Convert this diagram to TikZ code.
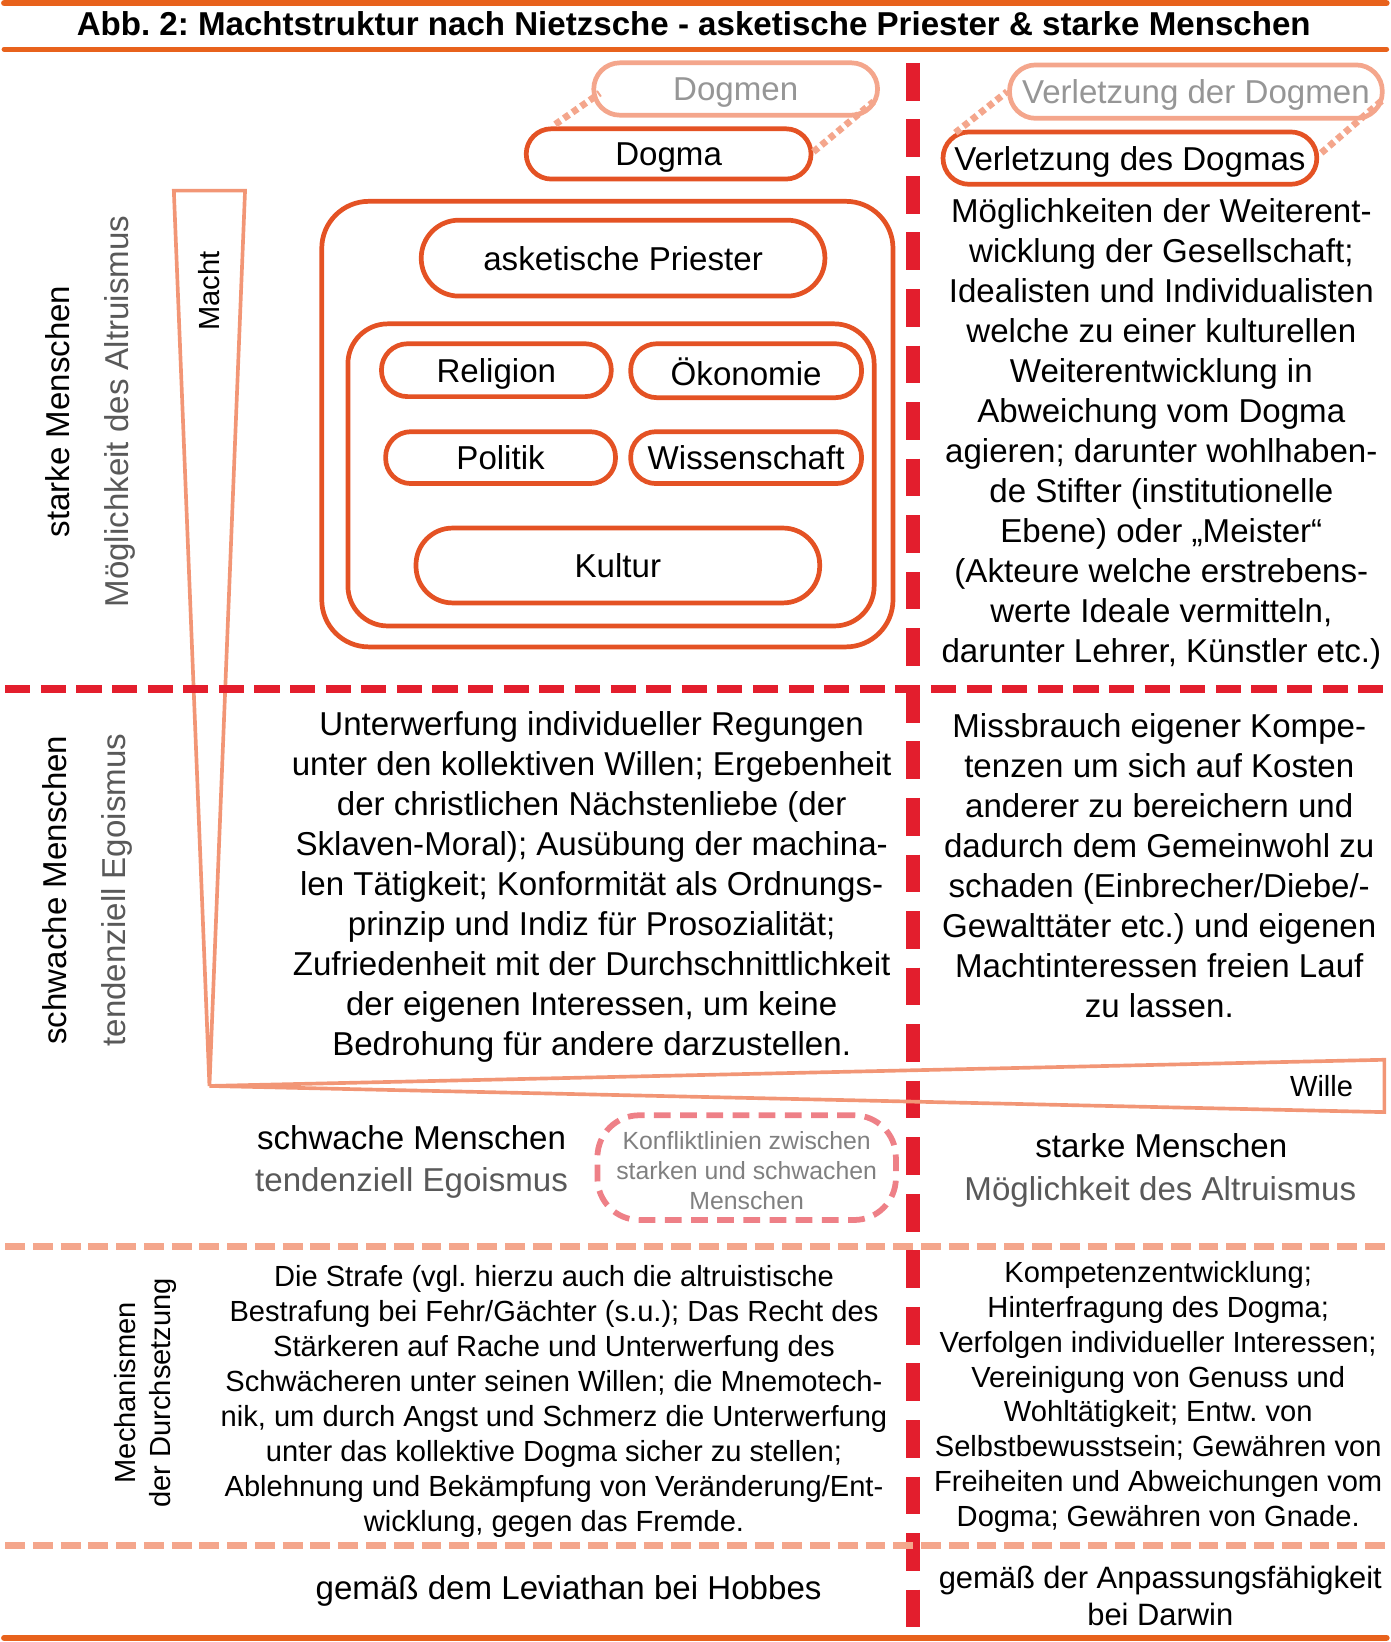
\documentclass[tikz,border=0pt]{standalone}
\usepackage{fontspec}
\setmainfont{Liberation Sans}
\frenchspacing
\definecolor{titleorange}{RGB}{232,98,28}
\definecolor{boxorange}{RGB}{228,82,36}
\definecolor{paleorange}{RGB}{244,166,140}
\definecolor{wedgeorange}{RGB}{242,150,118}
\definecolor{splitred}{RGB}{227,30,45}
\definecolor{conflictred}{RGB}{238,128,135}
\definecolor{softgray}{RGB}{89,89,89}
\definecolor{lightgray}{RGB}{150,150,150}
\newcommand{\bigtext}{\fontsize{31.6}{38.2}\selectfont}
\newcommand{\smalltext}{\fontsize{27.8}{33.4}\selectfont}
\newcommand{\tinytext}{\fontsize{23.7}{28.5}\selectfont}

\begin{document}
\begin{tikzpicture}[
		x=1pt, y=-1pt,
		pill/.style={draw=boxorange, line width=4.5pt, fill=white, rounded corners=#1, inner sep=0pt, font=\bigtext, text height=22.7pt, text depth=0pt},
		frame/.style={draw=boxorange, line width=4.5pt, rounded corners=#1, inner sep=0pt},
		link/.style={draw=paleorange, line width=6.5pt, dash pattern=on 6pt off 4pt},
		wedge/.style={draw=wedgeorange, line width=3.5pt, line join=miter},
		txt/.style={align=center, font=\bigtext, inner sep=0pt},
		smalltxt/.style={align=center, font=\smalltext, inner sep=0pt},
	]
	\useasboundingbox (0,0) rectangle (1328,1568);

	% title bar
	\draw[titleorange, line width=6pt, line cap=round] (4,3) -- (1324,3);
	\draw[titleorange, line width=5pt, line cap=round] (4,47) -- (1324,47);
	\draw[titleorange, line width=6pt, line cap=round] (4,1564) -- (1324,1564);
	\node[txt, font=\bfseries\bigtext] (title) at (662.5,23) {Abb. 2: Machtstruktur nach Nietzsche - asketische Priester \& starke Menschen};

	% separators
	\draw[splitred, line width=13pt, dash pattern=on 36pt off 18pt] (872,60) -- (872,1568);
	\draw[paleorange, line width=7pt, dash pattern=on 19pt off 7.5pt] (5,1190) -- (1325,1190);
	\draw[paleorange, line width=7pt, dash pattern=on 19pt off 7.5pt] (5,1476) -- (1325,1476);

	% Macht and Wille
	\coordinate (apex) at (200,1037);
	\draw[wedge] (166,182) -- (234,182) -- (apex) -- cycle;
	\draw[wedge] (apex) -- (1322,1012) -- (1322,1062) -- cycle;
	\node[smalltxt, rotate=90] (macht) at (200,278) {Macht};
	\node[smalltxt] (wille) at (1262,1037) {Wille};

	\draw[splitred, line width=7pt, dash pattern=on 24pt off 10pt] (5,658) -- (1325,658);

	% left labels
	\node[txt, rotate=90] (strong) at (55,393) {starke Menschen};
	\node[txt, rotate=90, text=softgray] (altru) at (115,393) {Möglichkeit des Altruismus};
	\node[txt, rotate=90] (weak) at (52,850) {schwache Menschen};
	\node[txt, rotate=90, text=softgray] (ego) at (112,850) {tendenziell Egoismus};
	\node[smalltxt, rotate=90] (mech) at (139,1330) {Mechanismen\\der Durchsetzung};

	% dogma boxes
	\node[pill=25pt, draw=paleorange, minimum width=271pt, minimum height=50pt, text=lightgray] (dogmen) at (702.5,85) {Dogmen};
	\node[pill=24pt, minimum width=272pt, minimum height=48pt] (dogma) at (638.5,147) {Dogma};
	\node[pill=25pt, draw=paleorange, minimum width=356pt, minimum height=51pt, text=lightgray] (dogmenhurt) at (1142,87.5) {Verletzung der Dogmen};
	\node[pill=25pt, minimum width=357pt, minimum height=50pt] (dogmahurt) at (1079,151) {Verletzung des Dogmas};
	\draw[link] ([xshift=30pt,yshift=2pt]dogma.north west) -- ([xshift=8pt,yshift=-4pt]dogmen.west);
	\draw[link] ([yshift=2pt]dogma.east) -- ([xshift=-6pt,yshift=-12pt]dogmen.east);
	\draw[link] ([xshift=14pt,yshift=-3pt]dogmahurt.north west) -- (dogmenhurt.west);
	\draw[link] ([xshift=2pt,yshift=5pt]dogmahurt.east) -- ([xshift=-2pt,yshift=-8pt]dogmenhurt.east);

	% institutions
	\node[frame=45pt, minimum width=545.5pt, minimum height=425.5pt] (church) at (580,405) {};
	\node[pill=36pt, minimum width=385.5pt, minimum height=72.5pt] (priests) at (595,246.5) {asketische Priester};
	\node[frame=38pt, minimum width=502.5pt, minimum height=288.5pt] (society) at (583.5,453.5) {};
	\node[pill=25pt, minimum width=219.5pt, minimum height=50.5pt] (religion) at (474,353.5) {Religion};
	\node[pill=25pt, minimum width=220.5pt, minimum height=51.5pt, text height=28pt] (economy) at (712.5,354) {Ökonomie};
	\node[pill=24pt, minimum width=219.5pt, minimum height=49.5pt] (politics) at (478,437) {Politik};
	\node[pill=24pt, minimum width=220.5pt, minimum height=49.5pt] (science) at (712.5,437) {Wissenschaft};
	\node[pill=35pt, minimum width=385.5pt, minimum height=71.5pt] (culture) at (590,540) {Kultur};

	% texts
	\node[txt] (chances) at (1109,414) {Möglichkeiten der Weiterent-\\wicklung der Gesellschaft;\\Idealisten und Individualisten\\welche zu einer kulturellen\\Weiterentwicklung in\\Abweichung vom Dogma\\agieren; darunter wohlhaben-\\de Stifter (institutionelle\\Ebene) oder „Meister“\\(Akteure welche erstrebens-\\werte Ideale vermitteln,\\darunter Lehrer, Künstler etc.)};
	\node[txt] (submission) at (565,847) {Unterwerfung individueller Regungen\\unter den kollektiven Willen; Ergebenheit\\der christlichen Nächstenliebe (der\\Sklaven-Moral); Ausübung der machina-\\len Tätigkeit; Konformität als Ordnungs-\\prinzip und Indiz für Prosozialität;\\Zufriedenheit mit der Durchschnittlichkeit\\der eigenen Interessen, um keine\\Bedrohung für andere darzustellen.};
	\node[txt] (abuse) at (1107,826.5) {Missbrauch eigener Kompe-\\tenzen um sich auf Kosten\\anderer zu bereichern und\\dadurch dem Gemeinwohl zu\\schaden (Einbrecher/Diebe/-\\Gewalttäter etc.) und eigenen\\Machtinteressen freien Lauf\\zu lassen.};

	\node[txt] (weakh) at (393,1086) {schwache Menschen};
	\node[txt, text=softgray] (egoh) at (393,1130) {tendenziell Egoismus};
	\node[draw=conflictred, line width=5.5pt, dash pattern=on 16pt off 9pt, rounded corners=40pt, minimum width=285pt, minimum height=100pt] (conflict) at (713,1115) {};
	\node[align=center, font=\tinytext, text=gray, inner sep=0pt] (conflicttxt) at ([yshift=-3pt]conflict.center) {Konfliktlinien zwischen\\starken und schwachen\\Menschen};
	\node[txt] (strongh) at (1109,1094) {starke Menschen};
	\node[txt, text=softgray] (altruh) at (1108,1138) {Möglichkeit des Altruismus};

	\node[smalltxt] (punish) at (529,1338) {Die Strafe (vgl. hierzu auch die altruistische\\Bestrafung bei Fehr/Gächter (s.u.); Das Recht des\\Stärkeren auf Rache und Unterwerfung des\\Schwächeren unter seinen Willen; die Mnemotech-\\nik, um durch Angst und Schmerz die Unterwerfung\\unter das kollektive Dogma sicher zu stellen;\\Ablehnung und Bekämpfung von Veränderung/Ent-\\wicklung, gegen das Fremde.};
	\node[smalltxt] (develop) at (1106,1334) {Kompetenzentwicklung;\\Hinterfragung des Dogma;\\Verfolgen individueller Interessen;\\Vereinigung von Genuss und\\Wohltätigkeit; Entw. von\\Selbstbewusstsein; Gewähren von\\Freiheiten und Abweichungen vom\\Dogma; Gewähren von Gnade.};

	\node[txt] (hobbes) at (543,1519) {gemäß dem Leviathan bei Hobbes};
	\node[txt, font=\fontsize{29.5}{36}\selectfont] (darwin) at (1108,1524) {gemäß der Anpassungsfähigkeit\\bei Darwin};
\end{tikzpicture}
\end{document}
